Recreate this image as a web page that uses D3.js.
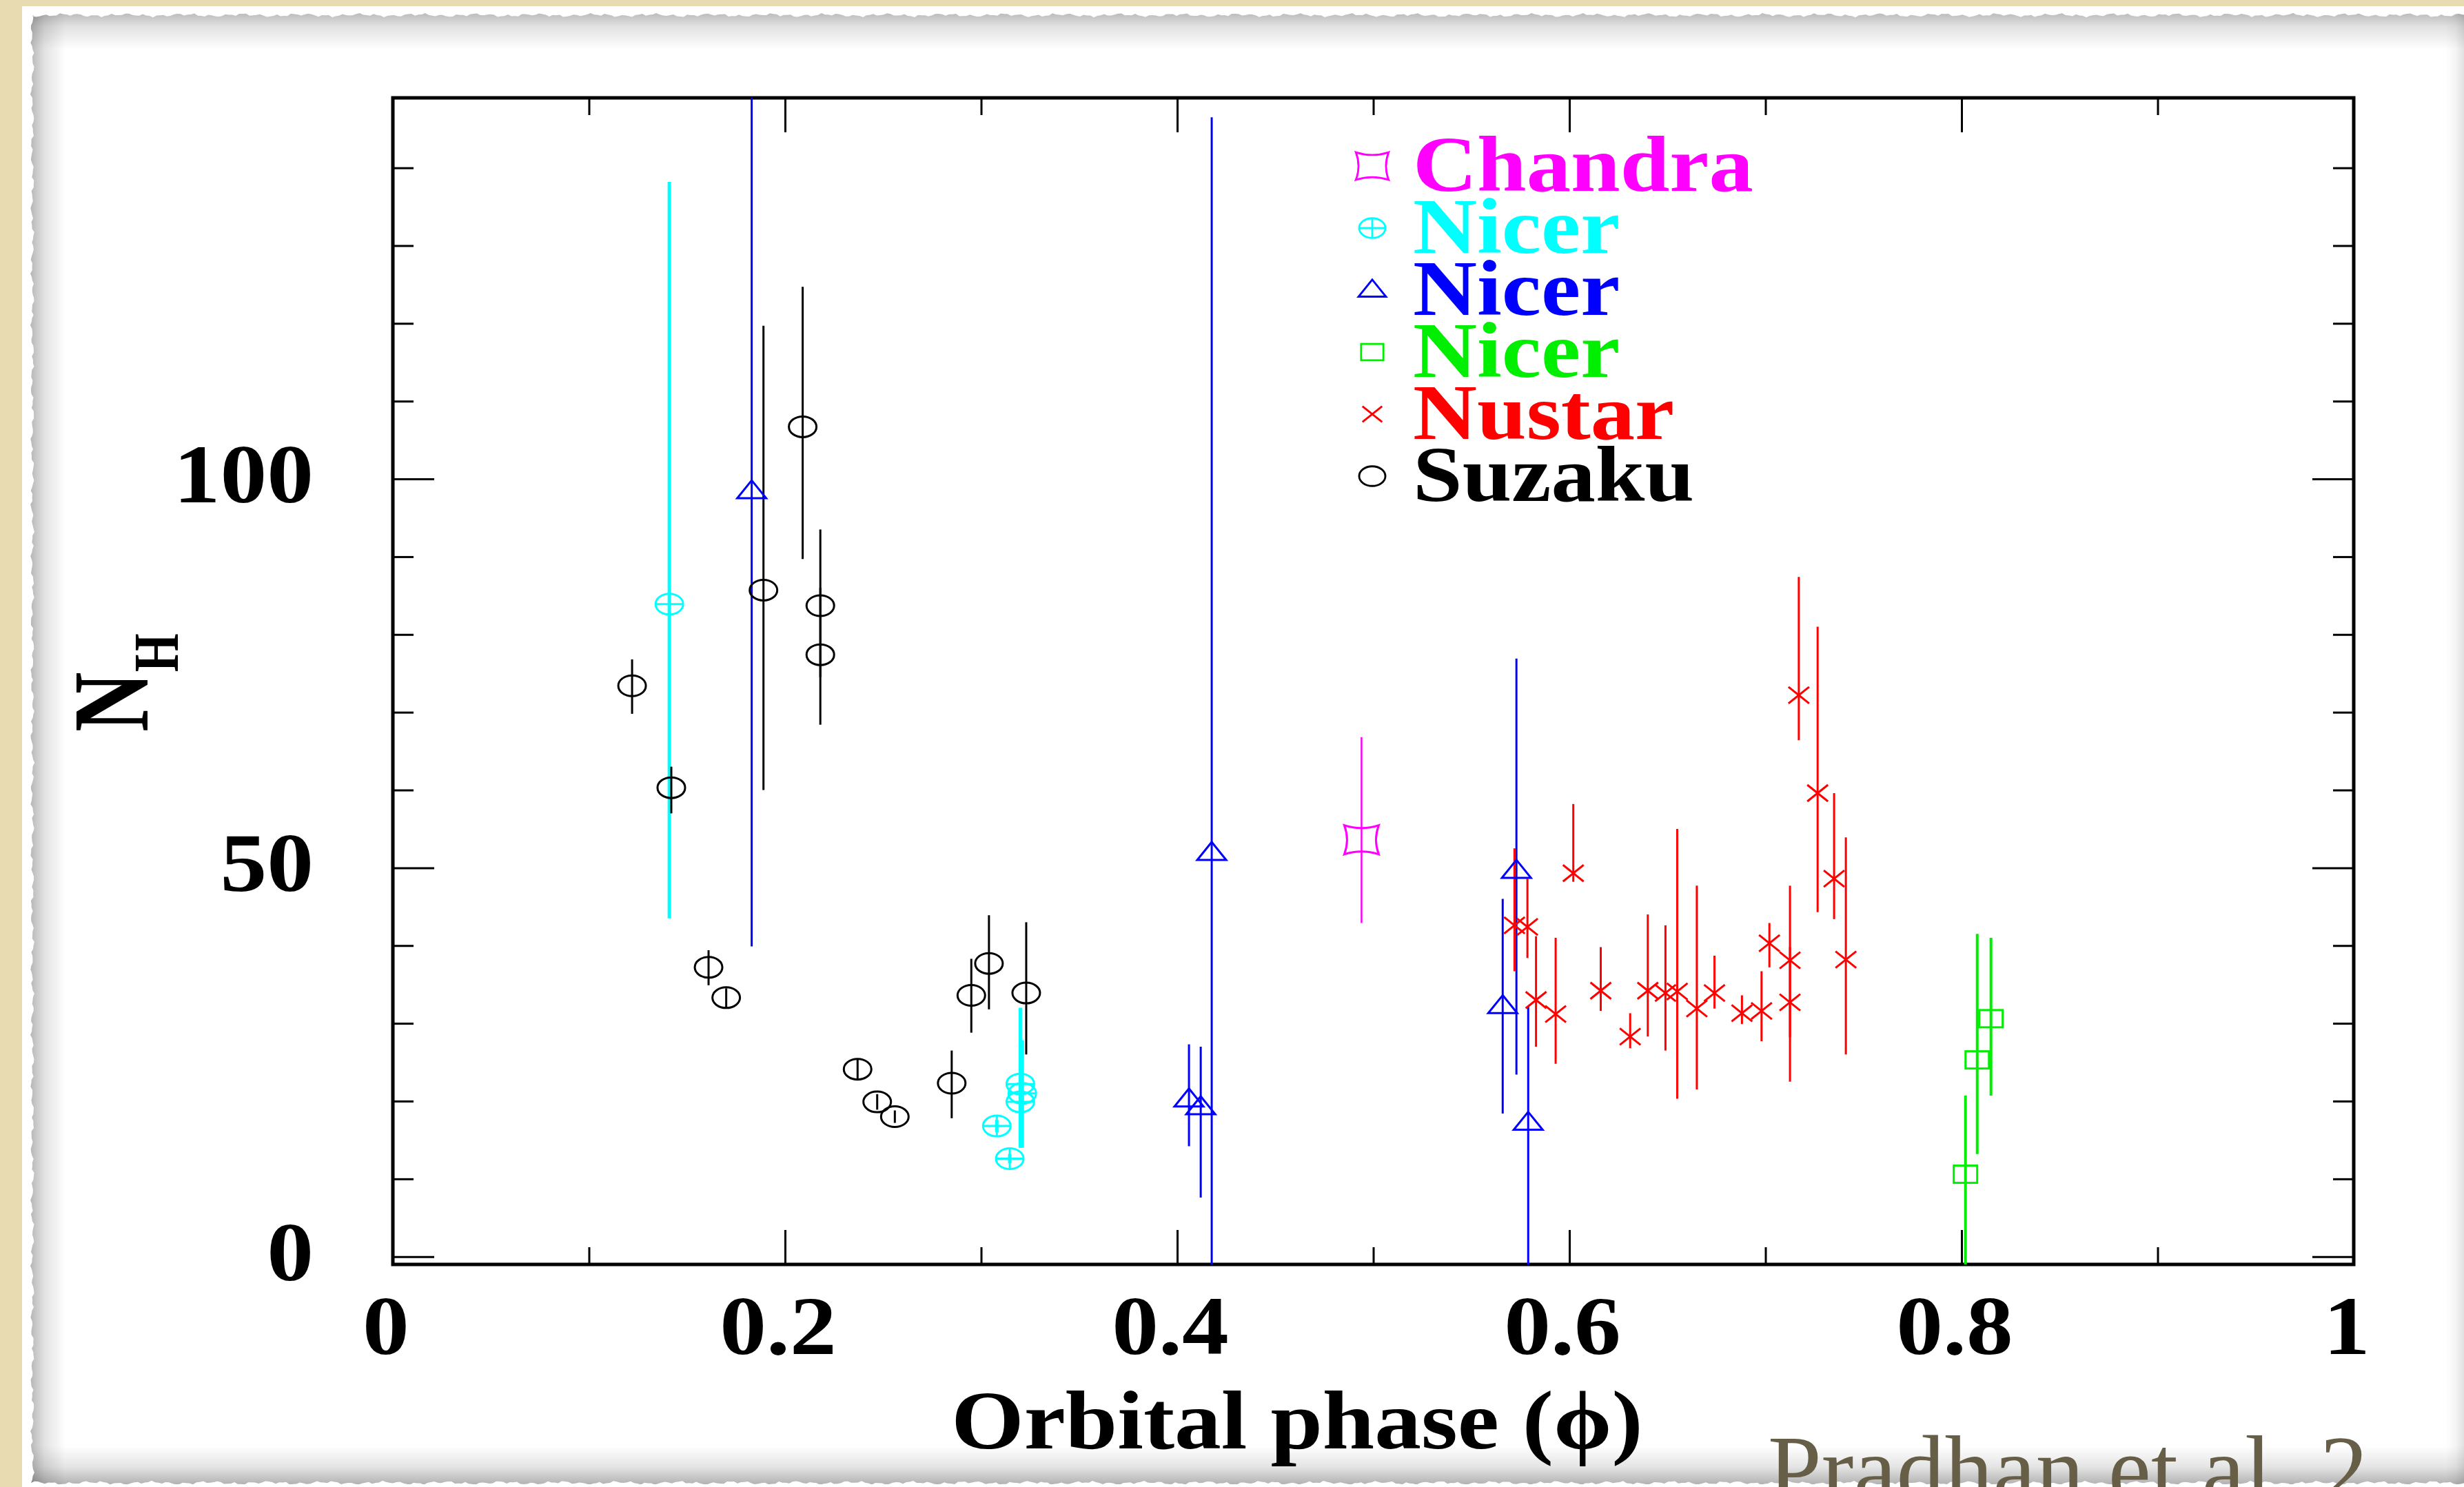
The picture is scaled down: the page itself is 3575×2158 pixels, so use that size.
<!DOCTYPE html>
<html>
<head>
<meta charset="utf-8">
<script src="https://cdn.jsdelivr.net/npm/d3@7"></script>
<style>
  html, body { margin: 0; padding: 0; background: #e8dab1; overflow: hidden; }
</style>
</head>
<body>
<div id="container"></div>
<script>
/* CONSTANTS AND GLOBALS */
const width = 3575, height = 2158;
const frame = {left: 570, right: 3415, top: 142, bottom: 1835};
const FONT = "'Liberation Serif', 'Times New Roman', serif";
const STRETCH = 1.13; // the original picture is a little wider than tall

/* DATA : [orbital phase, NH, lower end of bar, upper end of bar] */
const chandra = [[0.494, 53.6, 42.9, 66.8]];

const nicerCyan = [
  [0.141, 83.9, 43.5, 138.2],
  [0.308, 16.8, 16.0, 17.6],
  [0.3146, 12.6, 12.0, 13.2],
  [0.320, 22.2, 14.0, 32.0],
  [0.321, 21.0, 14.0, 27.8],
  [0.320, 19.9, 15.0, 25.0]
];

const nicerBlue = [
  [0.183, 98.4, 39.9, 160],
  [0.406, 20.2, 14.2, 27.3],
  [0.412, 19.2, 7.6, 27.0],
  [0.4176, 51.9, -5, 146.5],
  [0.566, 32.2, 18.4, 46.0],
  [0.573, 49.6, 23.4, 76.9],
  [0.579, 17.2, -5, 32.2]
];

const nicerGreen = [
  [0.802, 10.6, -3, 20.7],
  [0.808, 25.3, 13.2, 41.5],
  [0.815, 30.6, 20.7, 41.0]
];

const nustar = [
  [0.572, 42.6, 36.7, 52.5],
  [0.5786, 42.4, 38.4, 48.6],
  [0.583, 33.0, 27.0, 41.2],
  [0.593, 31.2, 24.8, 41.0],
  [0.602, 49.3, 48.2, 58.2],
  [0.616, 34.2, 31.6, 39.8],
  [0.631, 28.3, 26.8, 31.3],
  [0.640, 34.2, 28.3, 44.0],
  [0.649, 33.9, 26.5, 42.6],
  [0.655, 34.1, 20.3, 55.0],
  [0.665, 31.9, 21.5, 47.7],
  [0.674, 33.9, 31.9, 38.7],
  [0.688, 31.3, 29.9, 33.6],
  [0.698, 31.6, 27.7, 36.7],
  [0.702, 40.3, 37.2, 42.9],
  [0.7125, 38.1, 28.2, 47.7],
  [0.7125, 32.7, 22.5, 39.8],
  [0.717, 72.2, 66.4, 87.4],
  [0.7266, 59.6, 44.3, 81.0],
  [0.735, 48.6, 43.4, 59.6],
  [0.741, 38.2, 26.0, 53.9]
];

const suzaku = [
  [0.122, 73.4, 69.8, 76.8],
  [0.142, 60.3, 57.0, 63.0],
  [0.161, 37.2, 34.9, 39.4],
  [0.170, 33.3, 32.0, 34.5],
  [0.189, 85.7, 60.0, 119.7],
  [0.209, 106.7, 89.7, 124.7],
  [0.218, 83.7, 74.5, 93.5],
  [0.218, 77.4, 68.4, 86.0],
  [0.237, 24.1, 22.7, 25.4],
  [0.247, 19.9, 18.9, 20.9],
  [0.256, 18.0, 17.2, 18.8],
  [0.285, 22.3, 17.8, 26.5],
  [0.295, 33.6, 28.8, 38.3],
  [0.304, 37.7, 31.8, 43.9],
  [0.323, 33.9, 26.0, 43.0]
];

const legendNames = ["Chandra", "Nicer", "Nicer", "Nicer", "Nustar", "Suzaku"];
const xTickValues = [0, 0.2, 0.4, 0.6, 0.8, 1];
const xTickLabels = ["0", "0.2", "0.4", "0.6", "0.8", "1"];
const yTickValues = [0, 50, 100];
const yTickLabels = ["0", "50", "100"];

const series = [
  {data: chandra,    color: "#ff00ff", symbol: "concave", bar: 2.5},
  {data: nicerCyan,  color: "#00ffff", symbol: "circlePlus", bar: 5},
  {data: nicerBlue,  color: "#0000ff", symbol: "triangle", bar: 3},
  {data: nicerGreen, color: "#00ee00", symbol: "square", bar: 4},
  {data: nustar,     color: "#ff0000", symbol: "cross", bar: 3},
  {data: suzaku,     color: "#000000", symbol: "circle", bar: 3}
];
series.forEach((s, i) => s.name = legendNames[i]);

// SCALES
const xScale = d3.scaleLinear().domain([0, 1]).range([frame.left, frame.right]);
const yScale = d3.scaleLinear().domain([-1, 149]).range([frame.bottom, frame.top]);

// CREATE SVG ELEMENT
const svg = d3.select("#container")
  .append("svg")
  .attr("width", width)
  .attr("height", height)
  .style("display", "block");

const defs = svg.append("defs");

function shade(id, x1, y1, x2, y2, op) {
  const g = defs.append("linearGradient").attr("id", id)
    .attr("x1", x1).attr("y1", y1).attr("x2", x2).attr("y2", y2);
  g.append("stop").attr("offset", "0").attr("stop-color", "#000").attr("stop-opacity", op);
  g.append("stop").attr("offset", "0.45").attr("stop-color", "#000").attr("stop-opacity", op * 0.35);
  g.append("stop").attr("offset", "1").attr("stop-color", "#000").attr("stop-opacity", 0);
}
shade("shTop", 0, 0, 0, 1, 0.34);
shade("shLeft", 0, 0, 1, 0, 0.32);
shade("shBottom", 0, 1, 0, 0, 0.3);
shade("shRight", 1, 0, 0, 0, 0.12);

// torn paper outline (deterministic wiggle)
const wig = i => 1.4 * Math.sin(i * 1.31) + 1.2 * Math.sin(i * 0.37 + 1) + 0.7 * Math.sin(i * 2.9 + 0.4);
const paper = {x0: 47, y0: 22, x1: width + 10, y1: 2152};
const pts = [];
for (let x = paper.x0, i = 0; x <= paper.x1; x += 5, i++) pts.push([x, paper.y0 + wig(i)]);
pts.push([paper.x1, paper.y1]);
for (let x = paper.x1, i = 0; x >= paper.x0; x -= 5, i++) pts.push([x, paper.y1 + wig(i + 50)]);
for (let y = paper.y1, i = 0; y >= paper.y0; y -= 5, i++) pts.push([paper.x0 + wig(i + 99), y]);
defs.append("clipPath").attr("id", "paperClip")
  .append("path").attr("d", d3.line()(pts) + "Z");

defs.append("clipPath").attr("id", "plotClip")
  .append("rect")
  .attr("x", frame.left).attr("y", frame.top)
  .attr("width", frame.right - frame.left).attr("height", frame.bottom - frame.top);

// background card
svg.append("rect").attr("width", width).attr("height", height).attr("fill", "#e8dab1");
svg.append("rect").attr("x", 32).attr("y", 9)
  .attr("width", width).attr("height", height).attr("fill", "#ffffff");

const paperG = svg.append("g").attr("clip-path", "url(#paperClip)");
paperG.append("rect").attr("x", 0).attr("y", 0).attr("width", width).attr("height", height).attr("fill", "#fff");
paperG.append("rect").attr("x", 0).attr("y", 10).attr("width", width).attr("height", 62).attr("fill", "url(#shTop)");
paperG.append("rect").attr("x", 40).attr("y", 0).attr("width", 55).attr("height", height).attr("fill", "url(#shLeft)");
paperG.append("rect").attr("x", 0).attr("y", 2098).attr("width", width).attr("height", 56).attr("fill", "url(#shBottom)");
paperG.append("rect").attr("x", 3548).attr("y", 0).attr("width", 27).attr("height", height).attr("fill", "url(#shRight)");

// helper for horizontally stretched text
function label(g, x, y, txt, anchor, size) {
  return g.append("text")
    .attr("transform", `translate(${x},${y}) scale(${STRETCH},1)`)
    .attr("text-anchor", anchor)
    .attr("font-family", FONT)
    .attr("font-weight", "bold")
    .attr("font-size", size)
    .text(txt);
}

// AXES (ticks only, pointing inward)
const majorX = d3.range(0, 1.0001, 0.2);
const minorX = d3.range(0.1, 1, 0.2);
const majorY = [0, 50, 100];
const minorY = d3.range(10, 149, 10).filter(v => v % 50 !== 0);

function tickStyle(g) {
  g.select(".domain").remove();
  g.selectAll("line").attr("stroke", "#000").attr("stroke-width", 3);
  g.selectAll("text").remove();
}

[[majorX, 50], [minorX, 25]].forEach(([vals, len]) => {
  svg.append("g").attr("transform", `translate(0,${frame.bottom})`)
    .call(d3.axisBottom(xScale).tickValues(vals).tickSize(-len).tickFormat(""))
    .call(tickStyle);
  svg.append("g").attr("transform", `translate(0,${frame.top})`)
    .call(d3.axisTop(xScale).tickValues(vals).tickSize(-len).tickFormat(""))
    .call(tickStyle);
});
[[majorY, 60], [minorY, 30]].forEach(([vals, len]) => {
  svg.append("g").attr("transform", `translate(${frame.left},0)`)
    .call(d3.axisLeft(yScale).tickValues(vals).tickSize(-len).tickFormat(""))
    .call(tickStyle);
  svg.append("g").attr("transform", `translate(${frame.right},0)`)
    .call(d3.axisRight(yScale).tickValues(vals).tickSize(-len).tickFormat(""))
    .call(tickStyle);
});

// frame
svg.append("rect")
  .attr("x", frame.left).attr("y", frame.top)
  .attr("width", frame.right - frame.left).attr("height", frame.bottom - frame.top)
  .attr("fill", "none").attr("stroke", "#000").attr("stroke-width", 5);

// tick labels
const tickLabels = svg.append("g").attr("fill", "#000");
xTickValues.forEach((v, i) => label(tickLabels, xScale(v) - 10, 1965, xTickLabels[i], "middle", 120));
yTickValues.forEach((v, i) => label(tickLabels, 455, yScale(v) + 34, yTickLabels[i], "end", 120));

// axis titles
label(svg, 1882, 2102, "Orbital phase (\u03D5)", "middle", 120);
const yTitle = svg.append("text")
  .attr("transform", "translate(214,1062) scale(1.3,1) rotate(-90)")
  .attr("font-family", FONT).attr("font-weight", "bold").attr("font-size", 120);
yTitle.append("tspan").text("N");
yTitle.append("tspan").attr("font-size", 72).attr("dy", 34).text("H");

// SYMBOLS
function drawSymbol(g, type, color, k) {
  const s = g.append("g").attr("fill", "none").attr("stroke", color)
    .attr("stroke-width", 3).attr("transform", `scale(${k})`);
  if (type === "circle" || type === "circlePlus") {
    s.append("ellipse").attr("rx", 20).attr("ry", 15);
    if (type === "circlePlus") s.append("path").attr("d", "M-20,0H20M0,-15V15");
  } else if (type === "triangle") {
    s.append("path").attr("d", "M0,-16L21,10L-21,10Z");
  } else if (type === "square") {
    s.append("rect").attr("x", -17).attr("y", -12.5).attr("width", 34).attr("height", 25);
  } else if (type === "cross") {
    s.append("path").attr("d", "M-15,-12L15,12M-15,12L15,-12");
  } else if (type === "concave") {
    s.append("path").attr("d", "M-25,-21Q0,-13 25,-21Q17,0 25,21Q0,13 -25,21Q-17,0 -25,-21Z");
  }
}

// ERROR BARS
const bars = svg.append("g").attr("clip-path", "url(#plotClip)");
series.forEach(s => {
  bars.append("g").selectAll("line")
    .data(s.data)
    .join("line")
    .attr("x1", d => xScale(d[0])).attr("x2", d => xScale(d[0]))
    .attr("y1", d => yScale(d[2])).attr("y2", d => yScale(d[3]))
    .attr("stroke", s.color).attr("stroke-width", s.bar);
});

// POINTS
const points = svg.append("g");
series.forEach(s => {
  points.append("g").selectAll("g")
    .data(s.data)
    .join("g")
    .attr("transform", d => `translate(${xScale(d[0])},${yScale(d[1])})`)
    .each(function() { drawSymbol(d3.select(this), s.symbol, s.color, 1); });
});

// LEGEND
const legend = svg.append("g");
series.forEach((s, i) => {
  const base = 277 + i * 90;
  const sym = legend.append("g").attr("transform", `translate(1991,${base - 36})`);
  drawSymbol(sym, s.symbol, s.color, 0.95);
  label(legend, 2050, base, s.name, "start", 114).attr("fill", s.color);
});

// slide caption at the bottom
svg.append("text")
  .attr("x", 2565).attr("y", 2180)
  .attr("font-family", FONT).attr("font-size", 140)
  .attr("fill", "#675e48")
  .text("Pradhan et al. 2");
</script>
</body>
</html>
